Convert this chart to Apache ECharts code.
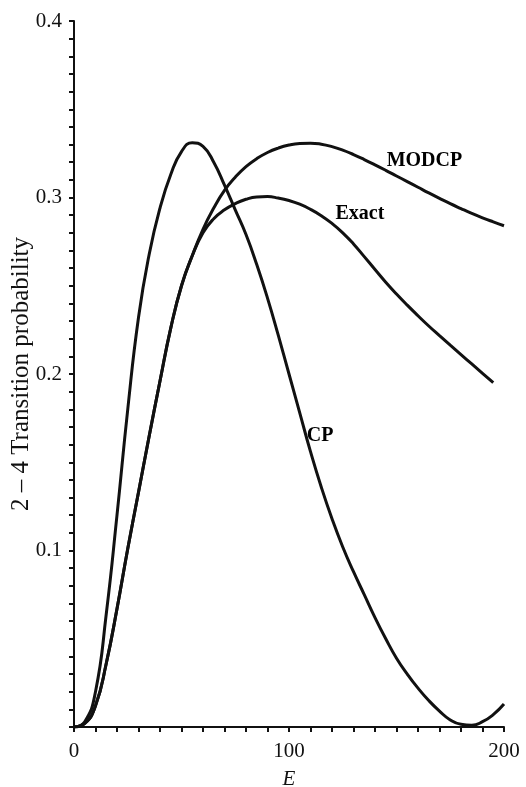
<!DOCTYPE html>
<html>
<head>
<meta charset="utf-8">
<script src="https://cdn.jsdelivr.net/npm/echarts@6/dist/echarts.min.js"></script>
<style>
html, body { margin: 0; padding: 0; background: #fff; }
#chart { width: 526px; height: 787px; }
</style>
</head>
<body>
<div id="chart"></div>
<script>
// E grid shared by the three curves (step 5)
var energy = [0, 5, 10, 15, 20, 25, 30, 35, 40, 45, 50, 55, 60, 65, 70, 75, 80, 85, 90, 95, 100,
    105, 110, 115, 120, 125, 130, 135, 140, 145, 150, 155, 160, 165, 170, 175, 180, 185, 190, 195, 200];

var cpValues = [0, 0.003, 0.020, 0.064, 0.120, 0.180, 0.232, 0.268, 0.294, 0.313, 0.326, 0.331, 0.329, 0.320, 0.307, 0.293, 0.279, 0.262, 0.243, 0.222, 0.200,
    0.178, 0.156, 0.136, 0.118, 0.102, 0.088, 0.075, 0.062, 0.050, 0.039, 0.030, 0.022, 0.015, 0.009, 0.004, 0.0015, 0.001, 0.003, 0.007, 0.013];

var exactValues = [0, 0.002, 0.012, 0.036, 0.067, 0.101, 0.133, 0.165, 0.196, 0.226, 0.250, 0.267, 0.280, 0.288, 0.293, 0.2965, 0.299, 0.3003, 0.3005, 0.2997, 0.2983,
    0.2962, 0.2933, 0.2897, 0.2853, 0.2800, 0.2737, 0.2665, 0.2592, 0.2520, 0.2453, 0.2390, 0.2330, 0.2272, 0.2217, 0.2163, 0.2110, 0.2057, 0.2004, 0.1951, null];

var modcpValues = [0, 0.002, 0.012, 0.036, 0.067, 0.101, 0.133, 0.165, 0.196, 0.226, 0.250, 0.267, 0.282, 0.294, 0.304, 0.3115, 0.3175, 0.322, 0.3255, 0.328, 0.3297,
    0.3306, 0.3308, 0.3302, 0.3288, 0.3268, 0.3243, 0.3215, 0.3185, 0.3154, 0.3122, 0.3090, 0.3058, 0.3026, 0.2995, 0.2965, 0.2937, 0.2910, 0.2885, 0.2862, 0.284];

// curve labels, placed in data coordinates
var labelNames = ['MODCP', 'Exact', 'CP'];
var labelE = [163, 133, 114.5];
var labelP = [0.321, 0.291, 0.165];

function pairs(xs, ys) {
    var out = [];
    for (var i = 0; i < xs.length; i++) {
        if (ys[i] !== null) out.push([xs[i], ys[i]]);
    }
    return out;
}

var labelData = [];
for (var i = 0; i < labelNames.length; i++) {
    labelData.push({ name: labelNames[i], value: [labelE[i], labelP[i]] });
}

var serif = '"Liberation Serif", "DejaVu Serif", serif';
var ink = '#111';

function curve(name, data) {
    return {
        name: name,
        type: 'line',
        data: data,
        smooth: 0.5,
        symbol: 'none',
        lineStyle: { color: ink, width: 3 },
        silent: true
    };
}

var myChart = echarts.init(document.getElementById('chart'));
var option = {
    backgroundColor: '#fff',
    animation: false,
    grid: { left: 74, right: 22, top: 21, bottom: 60, outerBoundsMode: 'none', containLabel: false },
    xAxis: {
        type: 'value',
        min: 0,
        max: 200,
        interval: 100,
        name: 'E',
        nameLocation: 'middle',
        nameGap: 42,
        nameMoveOverlap: false,
        nameTextStyle: { fontFamily: serif, fontStyle: 'italic', fontSize: 21, color: ink },
        axisLine: { lineStyle: { color: ink, width: 2 } },
        axisTick: { show: true, length: 5, lineStyle: { color: ink, width: 2 } },
        minorTick: { show: true, splitNumber: 10, length: 5, lineStyle: { color: ink, width: 2 } },
        splitLine: { show: false },
        axisLabel: { fontFamily: serif, fontSize: 21, color: ink, margin: 14 }
    },
    yAxis: {
        type: 'value',
        min: 0,
        max: 0.4,
        interval: 0.1,
        name: '2 \u2013 4 Transition probability',
        nameLocation: 'middle',
        nameRotate: 90,
        nameGap: 40,
        nameMoveOverlap: false,
        nameTextStyle: { fontFamily: serif, fontSize: 25, color: ink },
        axisLine: { lineStyle: { color: ink, width: 2 } },
        axisTick: { show: true, length: 5, lineStyle: { color: ink, width: 2 } },
        minorTick: { show: true, splitNumber: 10, length: 5, lineStyle: { color: ink, width: 2 } },
        splitLine: { show: false },
        axisLabel: { fontFamily: serif, fontSize: 21, color: ink, margin: 12, showMinLabel: false }
    },
    series: [
        curve('CP', pairs(energy, cpValues)),
        curve('Exact', pairs(energy, exactValues)),
        curve('MODCP', pairs(energy, modcpValues)),
        {
            name: 'labels',
            type: 'scatter',
            data: labelData,
            symbolSize: 1,
            itemStyle: { color: 'rgba(0,0,0,0)', opacity: 1 },
            silent: true,
            label: {
                show: true,
                position: 'inside',
                formatter: '{b}',
                fontFamily: serif,
                fontWeight: 'bold',
                fontSize: 20,
                color: '#000',
                opacity: 1,
                textBorderWidth: 0
            }
        }
    ]
};
myChart.setOption(option);
</script>
</body>
</html>
